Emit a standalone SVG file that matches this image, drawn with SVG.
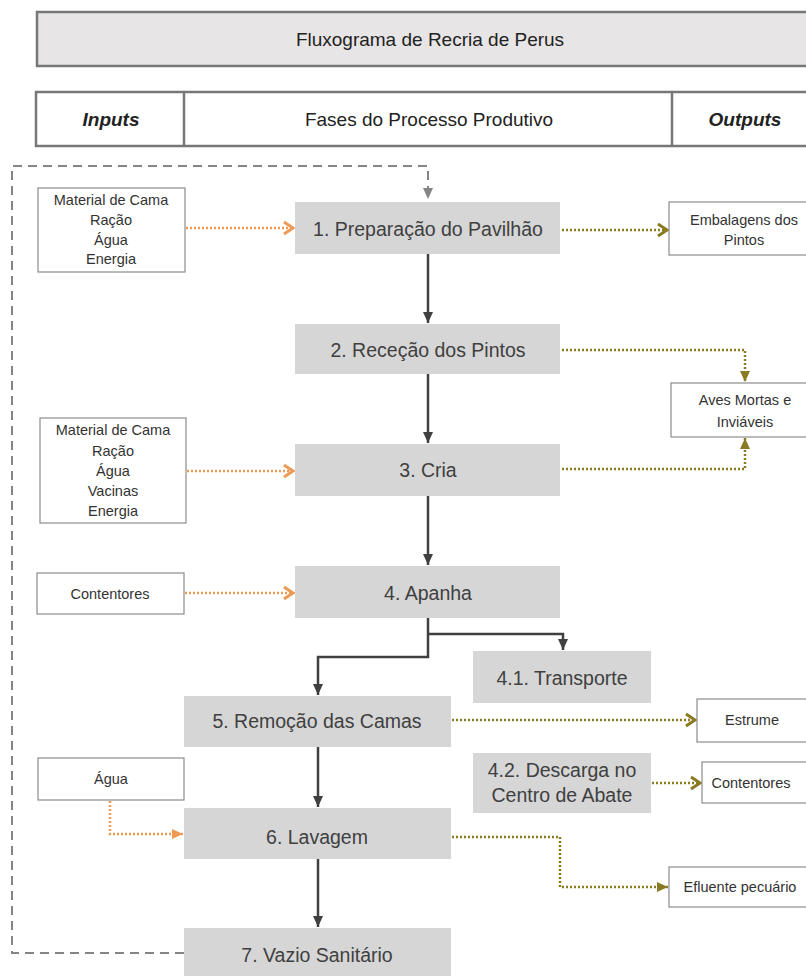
<svg xmlns="http://www.w3.org/2000/svg" width="806" height="976" viewBox="0 0 806 976">
<defs>
<style>
text{font-family:"Liberation Sans",Arial,sans-serif;fill:#404040;text-anchor:middle}
.hd{fill:#e7e5e5;stroke:#777;stroke-width:2.5}
.hb{fill:#fff;stroke:#777;stroke-width:2.5}
.ht{font-size:19px;fill:#222}
.hi{font-size:19px;font-style:italic;font-weight:bold;fill:#222}
.node{fill:#d6d6d6}
.nt{font-size:19.5px;fill:#404040}
.box{fill:#fff;stroke:#8c8c8c;stroke-width:1.2}
.bt{font-size:14.5px;fill:#333}
.solid{fill:none;stroke:#404040;stroke-width:2.5}
.loop{fill:none;stroke:#858585;stroke-width:2;stroke-dasharray:9 6}
.org{fill:none;stroke:#ee9a55;stroke-width:2.5;stroke-dasharray:2 2}
.olv{fill:none;stroke:#8a7a22;stroke-width:2.5;stroke-dasharray:2 2}
</style>
<marker id="aSolid" markerUnits="userSpaceOnUse" markerWidth="12" markerHeight="12" viewBox="0 0 12 12" refX="11" refY="6" orient="auto"><path d="M0,1 L11,6 L0,11 z" fill="#404040"/></marker>
<marker id="aLoop" markerUnits="userSpaceOnUse" markerWidth="12" markerHeight="12" viewBox="0 0 12 12" refX="11" refY="6" orient="auto"><path d="M0,1 L11,6 L0,11 z" fill="#858585"/></marker>
<marker id="cOrg" markerUnits="userSpaceOnUse" markerWidth="16" markerHeight="16" viewBox="0 0 16 16" refX="13" refY="8" orient="auto"><path d="M4,2 L13,8 L4,14" fill="none" stroke="#ee9a55" stroke-width="3"/></marker>
<marker id="cOlv" markerUnits="userSpaceOnUse" markerWidth="16" markerHeight="16" viewBox="0 0 16 16" refX="13" refY="8" orient="auto"><path d="M4,2 L13,8 L4,14" fill="none" stroke="#8a7a22" stroke-width="3"/></marker>
<marker id="tOrg" markerUnits="userSpaceOnUse" markerWidth="12" markerHeight="12" viewBox="0 0 12 12" refX="11" refY="6" orient="auto"><path d="M0,1 L11,6 L0,11 z" fill="#ee9a55"/></marker>
<marker id="tOlv" markerUnits="userSpaceOnUse" markerWidth="12" markerHeight="12" viewBox="0 0 12 12" refX="11" refY="6" orient="auto"><path d="M0,1 L11,6 L0,11 z" fill="#8a7a22"/></marker>
</defs>

<g id="header">
<rect class="hd" x="37" y="12" width="780" height="54"/>
<text class="ht" x="430" y="46">Fluxograma de Recria de Perus</text>
<rect class="hb" x="36" y="92" width="780" height="54"/>
<line x1="184" y1="92" x2="184" y2="146" stroke="#777" stroke-width="2.5"/>
<line x1="672" y1="92" x2="672" y2="146" stroke="#777" stroke-width="2.5"/>
<text class="hi" x="111" y="126">Inputs</text>
<text class="ht" x="429" y="126">Fases do Processo Produtivo</text>
<text class="hi" x="745" y="126">Outputs</text>
</g>

<g id="connectors">
<path class="loop" d="M184,953 H12 V166 H428 V199" marker-end="url(#aLoop)"/>
<path class="solid" d="M428,254 V323" marker-end="url(#aSolid)"/>
<path class="solid" d="M428,374 V443" marker-end="url(#aSolid)"/>
<path class="solid" d="M428,496 V565" marker-end="url(#aSolid)"/>
<path class="solid" d="M428,618 V657 H318 V695" marker-end="url(#aSolid)"/>
<path class="solid" d="M428,634 H563 V650" marker-end="url(#aSolid)"/>
<path class="solid" d="M318,747 V807" marker-end="url(#aSolid)"/>
<path class="solid" d="M318,859 V927" marker-end="url(#aSolid)"/>
<path class="org" d="M186,228 H293" marker-end="url(#cOrg)"/>
<path class="org" d="M187,471 H293" marker-end="url(#cOrg)"/>
<path class="org" d="M185,593 H293" marker-end="url(#cOrg)"/>
<path class="org" d="M110,801 V834 H183" marker-end="url(#tOrg)"/>
<path class="olv" d="M562,230 H667" marker-end="url(#cOlv)"/>
<path class="olv" d="M562,350 H745 V382" marker-end="url(#tOlv)"/>
<path class="olv" d="M562,469 H745 V438" marker-end="url(#tOlv)"/>
<path class="olv" d="M452,720 H695" marker-end="url(#cOlv)"/>
<path class="olv" d="M652,783 H700" marker-end="url(#cOlv)"/>
<path class="olv" d="M452,837 H560 V887 H668" marker-end="url(#tOlv)"/>
</g>

<g id="n1"><rect class="node" x="295" y="202" width="265" height="52"/><text class="nt" x="428" y="236">1. Preparação do Pavilhão</text></g>
<g id="n2"><rect class="node" x="295" y="324" width="265" height="50"/><text class="nt" x="428" y="357">2. Receção dos Pintos</text></g>
<g id="n3"><rect class="node" x="295" y="444" width="265" height="52"/><text class="nt" x="428" y="477">3. Cria</text></g>
<g id="n4"><rect class="node" x="295" y="566" width="265" height="52"/><text class="nt" x="428" y="600">4. Apanha</text></g>
<g id="n41"><rect class="node" x="473" y="651" width="178" height="52"/><text class="nt" x="562" y="685">4.1. Transporte</text></g>
<g id="n5"><rect class="node" x="184" y="696" width="267" height="51"/><text class="nt" x="317" y="728">5. Remoção das Camas</text></g>
<g id="n42"><rect class="node" x="473" y="753" width="178" height="60"/><text class="nt" x="562" y="777">4.2. Descarga no</text><text class="nt" x="562" y="802">Centro de Abate</text></g>
<g id="n6"><rect class="node" x="184" y="808" width="267" height="51"/><text class="nt" x="317" y="844">6. Lavagem</text></g>
<g id="n7"><rect class="node" x="184" y="928" width="267" height="50"/><text class="nt" x="317" y="962">7. Vazio Sanitário</text></g>

<g id="in1"><rect class="box" x="38" y="188" width="147" height="84"/>
<text class="bt" x="111" y="205">Material de Cama</text><text class="bt" x="111" y="225">Ração</text><text class="bt" x="111" y="245">Água</text><text class="bt" x="111" y="264">Energia</text></g>
<g id="in2"><rect class="box" x="40" y="418" width="146" height="105"/>
<text class="bt" x="113" y="435">Material de Cama</text><text class="bt" x="113" y="456">Ração</text><text class="bt" x="113" y="476">Água</text><text class="bt" x="113" y="496">Vacinas</text><text class="bt" x="113" y="516">Energia</text></g>
<g id="in3"><rect class="box" x="37" y="573" width="147" height="41"/><text class="bt" x="110" y="599">Contentores</text></g>
<g id="in4"><rect class="box" x="38" y="758" width="146" height="42"/><text class="bt" x="111" y="784">Água</text></g>

<g id="out1"><rect class="box" x="669" y="202" width="145" height="53"/><text class="bt" x="744" y="225">Embalagens dos</text><text class="bt" x="744" y="245">Pintos</text></g>
<g id="out2"><rect class="box" x="671" y="383" width="145" height="54"/><text class="bt" x="745" y="405">Aves Mortas e</text><text class="bt" x="745" y="427">Inviáveis</text></g>
<g id="out3"><rect class="box" x="697" y="699" width="115" height="43"/><text class="bt" x="752" y="725">Estrume</text></g>
<g id="out4"><rect class="box" x="702" y="762" width="110" height="41"/><text class="bt" x="751" y="788">Contentores</text></g>
<g id="out5"><rect class="box" x="669" y="867" width="145" height="40"/><text class="bt" x="740" y="892">Efluente pecuário</text></g>
</svg>
